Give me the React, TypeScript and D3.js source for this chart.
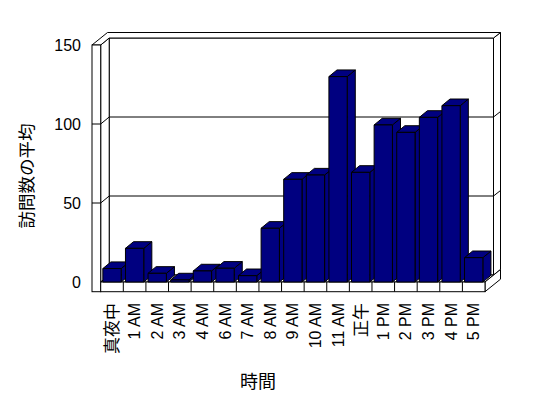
import * as d3 from 'd3'

const categories = ['真夜中', '1 AM', '2 AM', '3 AM', '4 AM', '6 AM', '7 AM', '8 AM', '9 AM', '10 AM', '11 AM', '正午', '1 PM', '2 PM', '3 PM', '4 PM', '5 PM']
const visits = [8.5, 21.3, 5.5, 1.3, 7, 8.7, 4, 34, 65, 67.7, 130, 69.4, 99.4, 94.7, 104.2, 111.6, 15.4]
const yTicks = [0, 50, 100, 150]
const yTitle = '訪問数の平均'
const xTitle = '時間'

const font = '"Liberation Sans", Arial, "Noto Sans CJK JP", sans-serif'
const barColor = '#000080'

// depth of the plot box (front plane -> back wall) and thickness of the walls
const depth = { x: 8.5, y: -7 }
const thick = { x: 7, y: -5.5 }
const wallW = 8.7
const floorH = 9.7

function pts(list: number[][]) {
    return list.map(p => p.join(',')).join(' ')
}

function App() {
    const left = 100.7
    const right = 485
    const yScale = d3.scaleLinear().domain([0, 150]).range([282, 45])
    const xScale = d3
        .scaleBand()
        .domain(categories)
        .range([left, right])
        .paddingInner(0.19)
        .paddingOuter(0.095)

    const y0 = yScale(0)
    const yTop = yScale(150)
    const bx = left + depth.x
    const bRight = right + depth.x
    const step = xScale.step()
    const bw = xScale.bandwidth()
    const bd = { x: depth.x * 0.95, y: depth.y * 0.95 }

    return (
        <svg width={548} height={398} style={{ position: 'absolute', left: 0, top: 0, background: '#fff' }}>
            <g stroke="#000" strokeWidth={1} fill="#fff">
                {/* back wall */}
                <rect x={bx} y={yTop + depth.y} width={bRight - bx} height={y0 - yTop} />
                {/* back wall right side */}
                <polygon points={pts([
                    [bRight, yTop + depth.y],
                    [bRight + thick.x, yTop + depth.y + thick.y],
                    [bRight + thick.x, y0 + depth.y + thick.y],
                    [bRight, y0 + depth.y]
                ])} />
                {/* left wall inner side */}
                <polygon points={pts([
                    [left, yTop],
                    [bx, yTop + depth.y],
                    [bx, y0 + depth.y],
                    [left, y0]
                ])} />
                {/* floor top */}
                <polygon points={pts([
                    [left, y0],
                    [right, y0],
                    [bRight, y0 + depth.y],
                    [bx, y0 + depth.y]
                ])} />
                {/* floor right side */}
                <polygon points={pts([
                    [right, y0],
                    [right + depth.x + thick.x, y0 + depth.y + thick.y],
                    [right + depth.x + thick.x, y0 + depth.y + thick.y + floorH],
                    [right, y0 + floorH]
                ])} />
                {/* top of walls */}
                <polygon points={pts([
                    [left - wallW, yTop],
                    [left, yTop],
                    [bx, yTop + depth.y],
                    [bRight, yTop + depth.y],
                    [bRight + thick.x, yTop + depth.y + thick.y],
                    [left - wallW + depth.x + thick.x, yTop + depth.y + thick.y]
                ])} />
                {/* left wall front and floor front */}
                <rect x={left - wallW} y={yTop} width={wallW} height={y0 + floorH - yTop} />
                <rect x={left} y={y0} width={right - left} height={floorH} />
            </g>

            {/* grid lines */}
            <g stroke="#000" strokeWidth={1} fill="none">
                {yTicks.filter(t => t > 0 && t < 150).map(t => (
                    <g key={t}>
                        <line x1={left - wallW} x2={left} y1={yScale(t)} y2={yScale(t)} />
                        <line x1={left} x2={bx} y1={yScale(t)} y2={yScale(t) + depth.y} />
                        <line x1={bx} x2={bRight} y1={yScale(t) + depth.y} y2={yScale(t) + depth.y} />
                        <line x1={bRight} x2={bRight + thick.x} y1={yScale(t) + depth.y} y2={yScale(t) + depth.y + thick.y} />
                    </g>
                ))}
                {categories.slice(1).map((c, i) => (
                    <line key={c} x1={left + (i + 1) * step} x2={left + (i + 1) * step} y1={y0} y2={y0 + floorH} />
                ))}
            </g>

            {/* bars */}
            <g stroke="#000" strokeWidth={1} fill={barColor} strokeLinejoin="round">
                {categories.map((c, i) => {
                    const x = xScale(c) as number
                    const y = yScale(visits[i])
                    return (
                        <g key={c}>
                            <polygon points={pts([
                                [x + bw, y],
                                [x + bw + bd.x, y + bd.y],
                                [x + bw + bd.x, y0 + bd.y],
                                [x + bw, y0]
                            ])} />
                            <polygon points={pts([
                                [x, y],
                                [x + bd.x, y + bd.y],
                                [x + bw + bd.x, y + bd.y],
                                [x + bw, y]
                            ])} />
                            <rect x={x} y={y} width={bw} height={y0 - y} />
                        </g>
                    )
                })}
            </g>

            {/* y tick labels */}
            <g fontFamily={font} fontSize={16} textAnchor="end" fill="#000">
                {yTicks.map(t => (
                    <text key={t} x={81} y={yScale(t)} dy="0.35em">{t}</text>
                ))}
            </g>

            {/* category labels */}
            <g fontFamily={font} fontSize={16} textAnchor="end" fill="#000">
                {categories.map(c => {
                    const cx = (xScale(c) as number) + bw / 2
                    return (
                        <text key={c} transform={`translate(${cx},303) rotate(-90)`} dy="0.35em"
                            fontSize={/[A-Z0-9]/.test(c) ? 16 : 17}>{c}</text>
                    )
                })}
            </g>

            <text transform="translate(26.5,176) rotate(-90)" dy="0.35em" textAnchor="middle"
                fontFamily={font} fontSize={17.5}>{yTitle}</text>
            <text x={258} y={388} textAnchor="middle" fontFamily={font} fontSize={18}>{xTitle}</text>
        </svg>
    )
}

export default App
